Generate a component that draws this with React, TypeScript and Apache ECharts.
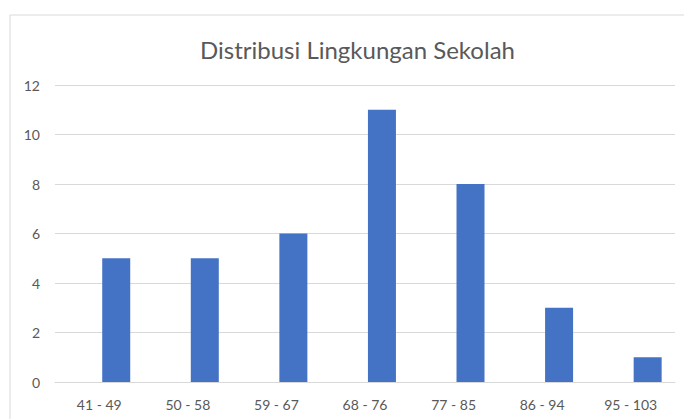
import React, { useEffect, useRef } from "react";
import * as echarts from "echarts";

const categories = ["41 - 49", "50 - 58", "59 - 67", "68 - 76", "77 - 85", "86 - 94", "95 - 103"];
const values = [5, 5, 6, 11, 8, 3, 1];
const emptySeries = [null, null, null, null, null, null, null];
const yTicks = { min: 0, max: 12, interval: 2 };
const titleText = "Distribusi Lingkungan Sekolah";

export default function App() {
  const ref = useRef<HTMLDivElement>(null);
  useEffect(() => {
    document.body.style.margin = "0";
    const chart = echarts.init(ref.current!, undefined, { renderer: "svg" });
    const font = "Lato, 'Open Sans', sans-serif";
    chart.setOption({
      animation: false,
      backgroundColor: "#ffffff",
      title: {
        text: titleText,
        left: 195,
        top: 32,
        textStyle: { fontFamily: font, fontSize: 24, fontWeight: "normal", color: "#595959" },
      },
      graphic: [
        {
          type: "rect",
          shape: { x: 10, y: 15, width: 700, height: 440 },
          style: { fill: "none", stroke: "#d9d9d9", lineWidth: 1 },
          silent: true,
        },
      ],
      grid: { left: 55, right: 9, top: 85, bottom: 37, containLabel: false },
      xAxis: {
        type: "category",
        data: categories,
        axisLine: { show: true, lineStyle: { color: "#d9d9d9", width: 1 } },
        axisTick: { show: false },
        axisLabel: { fontFamily: font, fontSize: 14, color: "#595959", margin: 15 },
      },
      yAxis: {
        type: "value",
        min: yTicks.min,
        max: yTicks.max,
        interval: yTicks.interval,
        axisLine: { show: false },
        axisTick: { show: false },
        splitLine: { lineStyle: { color: "#d9d9d9", width: 1 } },
        axisLabel: { fontFamily: font, fontSize: 14, color: "#595959", margin: 15 },
      },
      series: [
        { type: "bar", data: emptySeries, barWidth: 28, itemStyle: { color: "#4472C4" } },
        { type: "bar", data: values, barWidth: 28, barGap: "21%", itemStyle: { color: "#4472C4" } },
      ],
    });
    return () => chart.dispose();
  }, []);
  return <div ref={ref} style={{ width: 684, height: 419 }} />;
}
